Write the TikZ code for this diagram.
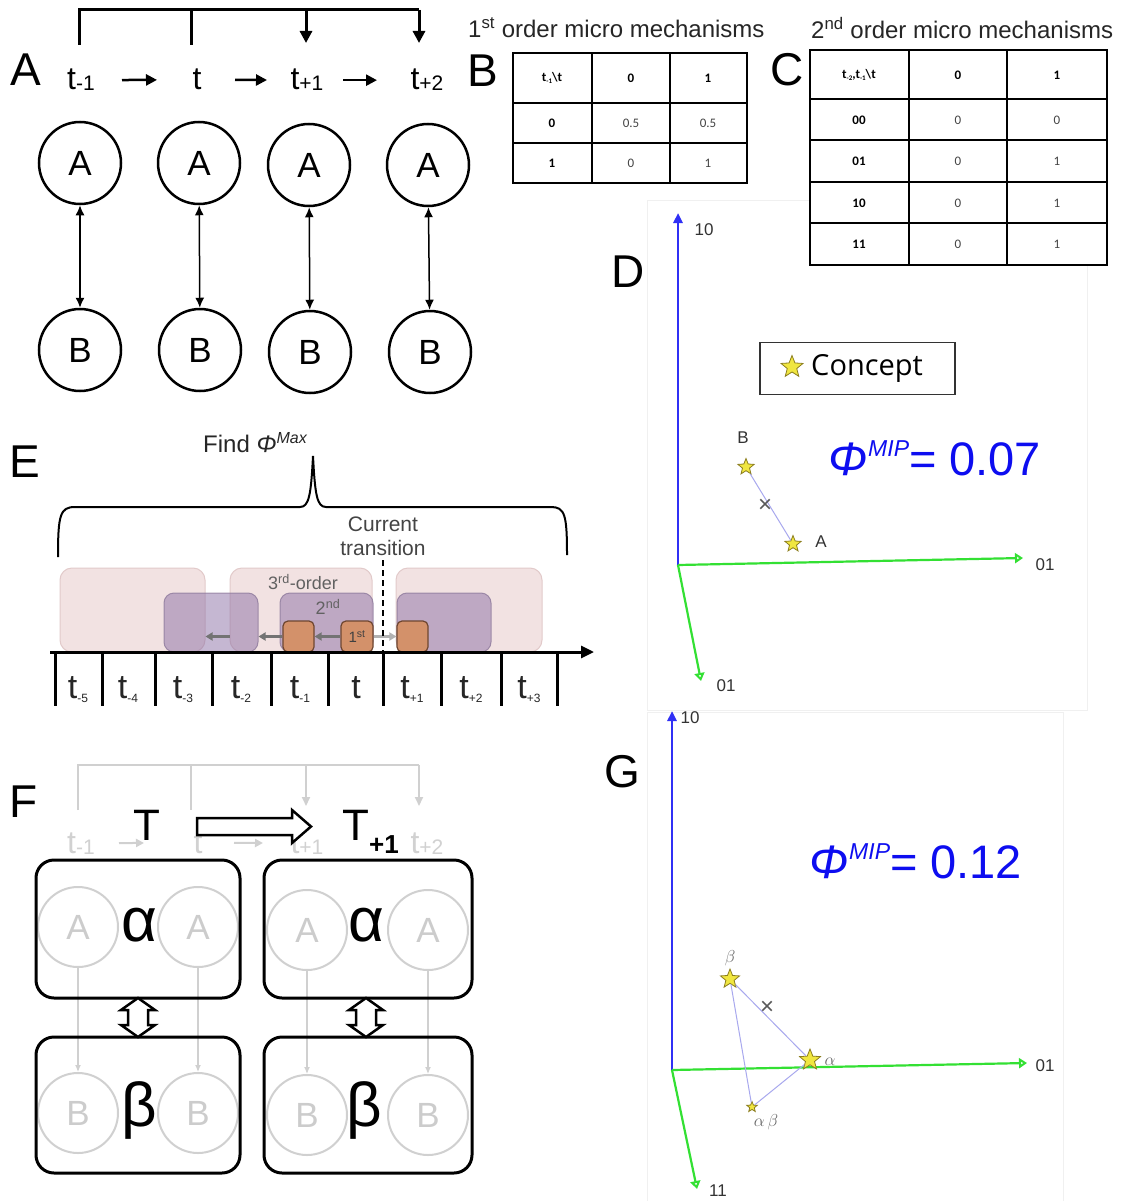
\documentclass[tikz,border=0pt]{standalone}
\usepackage{fontspec}
\setmainfont{Liberation Sans}
\newfontfamily\osans{Open Sans}
\newfontfamily\carl{Carlito}
\usepackage{graphicx}
\usetikzlibrary{arrows.meta,shapes.geometric}
\definecolor{axgreen}{HTML}{33E033}
\definecolor{axblue}{HTML}{3030F5}
\definecolor{phiblue}{HTML}{0D0DF0}
\definecolor{starfill}{HTML}{F0E640}
\definecolor{starline}{HTML}{8C7E1E}
\definecolor{linkblue}{HTML}{A8A8EE}
\definecolor{pinkbox}{HTML}{F0DEDE}
\definecolor{pinkedge}{HTML}{E2CACA}
\definecolor{purplebox}{HTML}{8C70A6}
\definecolor{purpleedge}{HTML}{8E7A9C}
\definecolor{orangebox}{HTML}{D3916A}
\definecolor{orangeedge}{HTML}{6E4630}
\definecolor{faint}{HTML}{D0D0D0}
\definecolor{txtgray}{HTML}{444444}
\newcommand{\fs}[1]{\fontsize{#1}{#1}\selectfont}
\begin{document}
\begin{tikzpicture}[x=1pt,y=-1pt,
  panlab/.style={font=\fs{46}, inner sep=0},
  tA/.style={font=\fs{32}, inner sep=0, anchor=base},
  tarr/.style={line width=2.5, -{Triangle[length=11,width=11]}},
  brk/.style={line width=3, line join=miter},
  brkarr/.style={line width=3, -{Triangle[length=12,width=12]}},
  circ/.style={circle, draw, line width=2.5, minimum size=82, inner sep=0, font=\fs{35}},
  link/.style={line width=1.5, {Latex[length=10,width=9]}-{Latex[length=10,width=9]}},
  tbl/.style={line width=2},
  hd/.style={font=\carl\bfseries\fs{13}, inner sep=0},
  vl/.style={font=\carl\fs{13}, text=txtgray, inner sep=0},
  ttl/.style={font=\fs{24}, inner sep=0, anchor=west, text=black!85},
  axl/.style={font=\fs{17}, text=black!80, inner sep=0},
  starm/.style={star, star points=5, star point ratio=2.3, fill=starfill, draw=starline, line width=0.8, minimum size=#1, inner sep=0},
  starm/.default=17,
  xm/.style={font=\fs{24}, text=black!65, inner sep=0},
  conn/.style={linkblue, line width=1},
  bluax/.style={axblue, line width=2.5, -{Triangle[length=10,width=9]}},
  grnax/.style={axgreen, line width=2.2, -{Triangle[open,length=8,width=10]}},
  phi/.style={font=\fs{47}, text=phiblue, inner sep=0},
  pinkb/.style={fill=pinkbox, draw=pinkedge, line width=1, rounded corners=12, fill opacity=0.85},
  purpb/.style={fill=purplebox, fill opacity=0.5, draw=purpleedge, draw opacity=0.8, line width=1, rounded corners=10},
  orab/.style={fill=orangebox, draw=orangeedge, line width=1.2, rounded corners=5, minimum width=31, minimum height=31, inner sep=0},
  garr/.style={black!55, line width=2.5, -{Triangle[length=7,width=8]}},
  tE/.style={font=\fs{34}, inner sep=0, anchor=base, text=black!85},
  etxt/.style={font=\fs{21}, text=txtgray, inner sep=0},
  tick/.style={line width=3},
  fbrk/.style={faint, line width=2},
  fbrkarr/.style={faint, line width=2, -{Triangle[length=9,width=8]}},
  ftA/.style={font=\fs{32}, inner sep=0, anchor=base, text=black!18},
  fcirc/.style={circle, draw=faint, line width=2, minimum size=80, inner sep=0, font=\fs{35}, text=black!20},
  farr/.style={faint, line width=1.2, -{Latex[length=7,width=6]}},
  rbox/.style={draw, line width=3, rounded corners=18},
  greek/.style={font=\fs{62}, inner sep=0},
  blk/.style={draw, line width=2.5, fill=white, line join=miter}
]
\fill[white] (0,0) rectangle (1120,1201);
\useasboundingbox (0,0) rectangle (1120,1201);

% faint panel frames (behind everything)
\draw[black!6, line width=1] (647,200) rectangle (1087,710);
\draw[black!6, line width=1] (647,712) rectangle (1063,1201);

% ================= Panel A =================
\node[panlab] (labA) at (26,70) {A};
\node[tA] (ta1) at (81,90) {t\raisebox{-1pt}{\fs{21}-1}};
\node[tA] (ta2) at (197,90) {t};
\node[tA] (ta3) at (307,90) {t\raisebox{-1pt}{\fs{21}+1}};
\node[tA] (ta4) at (427,90) {t\raisebox{-1pt}{\fs{21}+2}};
\draw[tarr, shorten <=41, shorten >=40] (ta1.center) -- (ta2.center);
\draw[tarr, shorten <=38, shorten >=40] (ta2.center) -- (ta3.center);
\draw[tarr, shorten <=36, shorten >=50] (ta3.center) -- (ta4.center);
\coordinate (ktop) at (0,10);
\coordinate (ka) at (79,45);
\coordinate (kb) at (191,45);
\coordinate (kc) at (306,43);
\coordinate (kd) at (419,43);
\draw[brk] (ka) -- (ka |- ktop) -- (kd |- ktop);
\draw[brkarr] (kd |- ktop) -- (kd);
\draw[brk] (kb |- ktop) -- (kb);
\draw[brkarr] (kc |- ktop) -- (kc);

\node[circ] (A1) at (80,163) {A};
\node[circ] (A2) at (199,163) {A};
\node[circ] (A3) at (309,165) {A};
\node[circ] (A4) at (428,165) {A};
\node[circ] (B1) at (80,350) {B};
\node[circ] (B2) at (200,350) {B};
\node[circ] (B3) at (310,352) {B};
\node[circ] (B4) at (430,352) {B};
\draw[link] (A1) -- (B1);
\draw[link] (A2) -- (B2);
\draw[link] (A3) -- (B3);
\draw[link] (A4) -- (B4);

% ================= Panel B =================
\node[ttl] (ttlB) at (468,28) {1\textsuperscript{st} order micro mechanisms};
\node[panlab] (labB) at (483,71) {B};
\draw[tbl, fill=white] (513,53) rectangle (747,183);
\draw[tbl] (592,53) -- (592,183) (670,53) -- (670,183) (513,103) -- (747,103) (513,143) -- (747,143);
\node[hd] (b00) at (552,78) {t\raisebox{-2pt}{\fs{7}-1}\textbackslash t};
\node[hd] (b01) at (631,78) {0};
\node[hd] (b02) at (708,78) {1};
\node[hd] (b10) at (552,123) {0};
\node[vl] (b11) at (631,123) {0.5};
\node[vl] (b12) at (708,123) {0.5};
\node[hd] (b20) at (552,163) {1};
\node[vl] (b21) at (631,163) {0};
\node[vl] (b22) at (708,163) {1};

% ================= Panel C =================
\node[ttl] (ttlC) at (811,28) {2\textsuperscript{nd} order micro mechanisms};
\node[panlab] (labC) at (787,70) {C};
\draw[tbl, fill=white] (810,50) rectangle (1107,265);
\draw[tbl] (909,50) -- (909,265) (1007,50) -- (1007,265);
\draw[tbl] (810,99) -- (1107,99) (810,140) -- (1107,140) (810,182) -- (1107,182) (810,223) -- (1107,223);
\node[hd] (c00) at (859,75) {t\raisebox{-2pt}{\fs{7}-2},t\raisebox{-2pt}{\fs{7}-1}\textbackslash t};
\node[hd] (c01) at (958,75) {0};
\node[hd] (c02) at (1057,75) {1};
\node[hd] (c10) at (859,120) {00};
\node[vl] (c11) at (958,120) {0};
\node[vl] (c12) at (1057,120) {0};
\node[hd] (c20) at (859,161) {01};
\node[vl] (c21) at (958,161) {0};
\node[vl] (c22) at (1057,161) {1};
\node[hd] (c30) at (859,203) {10};
\node[vl] (c31) at (958,203) {0};
\node[vl] (c32) at (1057,203) {1};
\node[hd] (c40) at (859,244) {11};
\node[vl] (c41) at (958,244) {0};
\node[vl] (c42) at (1057,244) {1};

% ================= Panel D =================
\node[panlab] (labD) at (628,272) {D};
\coordinate (oD) at (678,565);
\coordinate (yD) at (678,213);
\coordinate (xD) at (1023,558);
\coordinate (zD) at (701,681);
\draw[bluax] (oD) -- (yD);
\draw[grnax] (oD) -- (xD);
\draw[grnax] (oD) -- (zD);
\node[axl] (lyD) at (704,230) {10};
\node[axl] (lxD) at (1045,565) {01};
\node[axl] (lzD) at (726,686) {01};
\node[draw=black!80, line width=1.5, minimum width=195, minimum height=52, inner sep=0] (leg) at (857.5,368.5) {};
\node[starm=23] (legstar) at (792,367) {};
\node[font=\osans\fs{29}, inner sep=0, anchor=west] (legtxt) at (811,368) {Concept};
\node[starm=17] (sB) at (746,467) {};
\node[starm=17] (sA) at (793,544) {};
\draw[conn] (sB) -- (sA);
\node[xm] (xmD) at (765,506) {×};
\node[axl] (lB) at (743,438) {B};
\node[axl] (lA) at (821,542) {A};
\node[phi] (phiD) at (935,458) {\textit{Φ}\raisebox{19pt}{\fs{23}\textit{MIP}}= 0.07};

% ================= Panel G =================
\node[panlab] (labG) at (622,772) {G};
\coordinate (oG) at (672,1070);
\coordinate (yG) at (672,711);
\coordinate (xG) at (1027,1063);
\coordinate (zG) at (697,1189);
\draw[bluax] (oG) -- (yG);
\draw[grnax] (oG) -- (xG);
\draw[grnax] (oG) -- (zG);
\node[axl] (lyG) at (690,718) {10};
\node[axl] (lxG) at (1045,1066) {01};
\node[axl] (lzG) at (718,1191) {11};
\node[starm=20] (sBe) at (730,979) {};
\node[starm=22] (sAl) at (810,1060) {};
\node[starm=11] (sAB) at (752,1107) {};
\draw[conn] (sBe) -- (sAl);
\draw[conn] (sAl) -- (sAB);
\draw[conn] (sAB) -- (sBe);
\node[xm] (xmG) at (767,1008) {×};
\node[font=\fs{17}, text=black!60, inner sep=0] (lBe) at (730,958) {$\beta$};
\node[font=\fs{17}, text=black!60, inner sep=0] (lAl) at (830,1062) {$\alpha$};
\node[font=\fs{17}, text=black!60, inner sep=0] (lAB) at (766,1122) {$\alpha\,\beta$};
\node[phi] (phiG) at (916,861) {\textit{Φ}\raisebox{19pt}{\fs{23}\textit{MIP}}= 0.12};

% ================= Panel E =================
\node[panlab] (labE) at (25,462) {E};
\node[font=\fs{24}, inner sep=0, anchor=base west, text=black!85] (find) at (203,452) {Find \textit{Φ}\raisebox{9pt}{\fs{16}\textit{Max}}};
\draw[line width=2] (58,557) .. controls (58,515) and (60,507) .. (75,507) -- (300,507)
  .. controls (309,507) and (311,495) .. (313,456)
  .. controls (315,495) and (317,507) .. (326,507) -- (551,507)
  .. controls (565,507) and (567,515) .. (567,555);
\node[etxt] (cur1) at (383,524) {Current};
\node[etxt] (cur2) at (383,548) {transition};

\node[pinkb, minimum width=145, minimum height=84, inner sep=0] (P1) at (132.5,610) {};
\node[pinkb, minimum width=142, minimum height=84, inner sep=0] (P2) at (301,610) {};
\node[pinkb, minimum width=146, minimum height=84, inner sep=0] (P3) at (469,610) {};
\node[purpb, minimum width=94, minimum height=59, inner sep=0] (Q1) at (211,622.5) {};
\node[purpb, minimum width=93, minimum height=59, inner sep=0] (Q2) at (326.5,622.5) {};
\node[purpb, minimum width=94, minimum height=59, inner sep=0] (Q3) at (444,622.5) {};
\node[font=\fs{18}, text=black!62, inner sep=0] (ord3) at (303,582) {3\textsuperscript{rd}-order};
\node[font=\fs{18}, text=black!62, inner sep=0] (ord2) at (328,607) {2\textsuperscript{nd}};
\node[orab] (O1) at (298.5,636.5) {};
\node[orab, minimum width=32, font=\fs{15}, text=black!75] (O2) at (357,636.5) {1\textsuperscript{st}};
\node[orab] (O3) at (412.5,636.5) {};
\draw[garr] (O2.west) -- (O1.east);
\draw[garr] (O1.west) -- (O1.west -| Q1.east);
\draw[garr] (O1.west -| P2.west) -- (O1.west -| P1.east);
\draw[black!30, line width=2.5, -{Triangle[length=7,width=8]}] (O2.east) -- (O3.west);

\coordinate (axs) at (50,652);
\coordinate (axe) at (594,652);
\draw[line width=3, -{Triangle[length=13,width=12]}] (axs) -- (axe);
\draw[line width=2.5, dash pattern=on 6pt off 4pt] (383,560) -- (383,652);
\foreach \x in {55,102,155,212,271,328,383,441,501,557} \draw[tick] (\x,652) -- (\x,706);
\node[tE] (e1) at (78,698) {t\raisebox{-4pt}{\fs{12}-5}};
\node[tE] (e2) at (128,698) {t\raisebox{-4pt}{\fs{12}-4}};
\node[tE] (e3) at (183,698) {t\raisebox{-4pt}{\fs{12}-3}};
\node[tE] (e4) at (241,698) {t\raisebox{-4pt}{\fs{12}-2}};
\node[tE] (e5) at (300,698) {t\raisebox{-4pt}{\fs{12}-1}};
\node[tE] (e6) at (356,698) {t};
\node[tE] (e7) at (412,698) {t\raisebox{-4pt}{\fs{12}+1}};
\node[tE] (e8) at (471,698) {t\raisebox{-4pt}{\fs{12}+2}};
\node[tE] (e9) at (529,698) {t\raisebox{-4pt}{\fs{12}+3}};

% ================= Panel F =================
\node[panlab] (labF) at (24,802) {F};
\coordinate (ftop) at (0,765);
\coordinate (fa) at (78,810);
\coordinate (fb) at (191,810);
\coordinate (fc) at (306,806);
\coordinate (fd) at (419,806);
\draw[fbrk] (fa) -- (fa |- ftop) -- (fd |- ftop);
\draw[fbrkarr] (fd |- ftop) -- (fd);
\draw[fbrk] (fb |- ftop) -- (fb);
\draw[fbrkarr] (fc |- ftop) -- (fc);
\node[ftA] (ft1) at (81,853) {t\raisebox{-1pt}{\fs{21}-1}};
\node[ftA] (ft2) at (198,853) {t};
\node[ftA] (ft3) at (307,853) {t\raisebox{-1pt}{\fs{21}+1}};
\node[ftA] (ft4) at (427,853) {t\raisebox{-1pt}{\fs{21}+2}};
\draw[faint, line width=2, -{Triangle[length=8,width=8]}, shorten <=38, shorten >=54] (ft1.center) -- (ft2.center);
\draw[faint, line width=2, -{Triangle[length=8,width=8]}, shorten <=36, shorten >=44] (ft2.center) -- (ft3.center);

\node[fcirc] (fA1) at (78,927) {A};
\node[fcirc] (fA2) at (198,927) {A};
\node[fcirc] (fA3) at (307,930) {A};
\node[fcirc] (fA4) at (428,930) {A};
\node[fcirc] (fB1) at (78,1113) {B};
\node[fcirc] (fB2) at (198,1113) {B};
\node[fcirc] (fB3) at (307,1115) {B};
\node[fcirc] (fB4) at (428,1115) {B};
\draw[farr] (fA1) -- (fB1);
\draw[farr] (fA2) -- (fB2);
\draw[farr] (fA3) -- (fB3);
\draw[farr] (fA4) -- (fB4);

\node[rbox, minimum width=204, minimum height=138, inner sep=0] (al1) at (138,929) {};
\node[rbox, minimum width=208, minimum height=138, inner sep=0] (al2) at (368,929) {};
\node[rbox, minimum width=204, minimum height=136, inner sep=0] (be1) at (138,1105) {};
\node[rbox, minimum width=208, minimum height=136, inner sep=0] (be2) at (368,1105) {};
\node[greek] (ga1) at (139,925) {α};
\node[greek] (ga2) at (366,925) {α};
\node[greek] (gb1) at (139,1110) {β};
\node[greek] (gb2) at (364,1110) {β};

\node[font=\fs{44}, inner sep=0, anchor=base] (T0) at (147,840) {T};
\node[font=\fs{44}, inner sep=0, anchor=base west] (T1) at (342,840) {T\raisebox{-13pt}{\fs{26}\bfseries +1}};
\draw[blk] (197,818) -- (292,818) -- (292,810) -- (311,826.5) -- (292,843) -- (292,835) -- (197,835) -- cycle;

\foreach \c/\n in {138/1,366/2} {
  \draw[blk] (\c,998) -- (\c+17,1010) -- (\c+10,1010) -- (\c+10,1025) -- (\c+17,1025) -- (\c,1037)
    -- (\c-17,1025) -- (\c-10,1025) -- (\c-10,1010) -- (\c-17,1010) -- cycle;
}
\end{tikzpicture}
\end{document}
